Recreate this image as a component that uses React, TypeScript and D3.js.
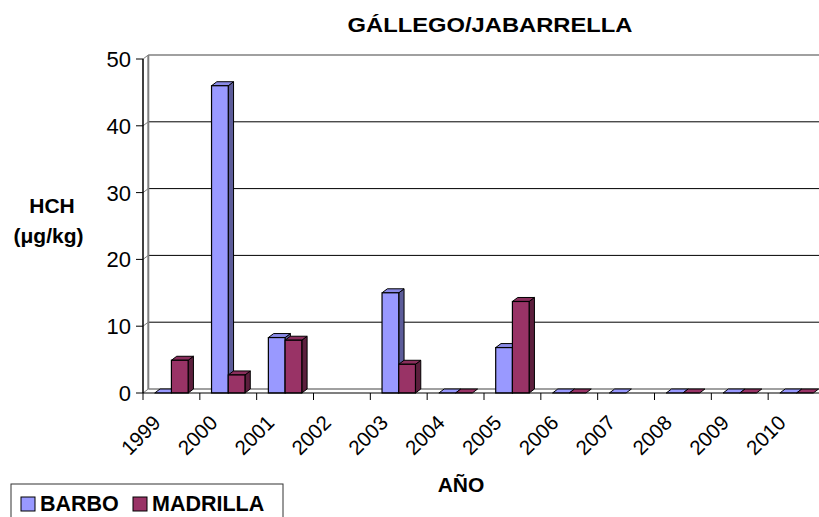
import React from 'react';
import * as d3 from 'd3';

const years = ['1999', '2000', '2001', '2002', '2003', '2004', '2005', '2006', '2007', '2008', '2009', '2010'];
const seriesNames = ['BARBO', 'MADRILLA'];
const barbo: (number | null)[] = [0, 46, 8.3, null, 15, 0, 6.8, 0, 0, 0, 0, 0];
const madrilla: (number | null)[] = [4.9, 2.7, 7.9, null, 4.3, 0, 13.7, 0, null, 0, 0, 0];
const yTicks = [0, 10, 20, 30, 40, 50];

const colors = {
  BARBO: { front: '#9999FF', top: '#8A8AE6', side: '#5C5C99' },
  MADRILLA: { front: '#993366', top: '#8A2E5C', side: '#5C1F3D' },
} as Record<string, { front: string; top: string; side: string }>;

const W = 819, H = 517;
const FONT = '"Liberation Sans", Arial, Helvetica, sans-serif';
const DX = 5.3, DY = 4;

export default function App() {
  const x0 = d3.scaleBand<string>().domain(years).range([143, 825]).paddingInner(0).paddingOuter(0);
  const x1 = d3.scaleBand<string>().domain(seriesNames).range([0, x0.bandwidth()]).paddingInner(0).paddingOuter(0.7);
  const y = d3.scaleLinear().domain([0, 50]).range([393, 59]);
  const y0 = y(0);
  const xL = 143, xR = 825;

  const seriesData: Record<string, (number | null)[]> = { BARBO: barbo, MADRILLA: madrilla };

  const bars: React.ReactNode[] = [];
  years.forEach((yr, i) => {
    seriesNames.forEach((s) => {
      const v = seriesData[s][i];
      if (v === null || v === undefined) return;
      const bx = (x0(yr) as number) + (x1(s) as number);
      const bw = x1.bandwidth();
      const yt = y(v);
      const c = colors[s];
      const key = `${yr}-${s}`;
      const top = `M${bx},${yt} L${bx + bw},${yt} L${bx + bw + DX},${yt - DY} L${bx + DX},${yt - DY} Z`;
      if (v === 0) {
        bars.push(<path key={key} d={top} fill={c.front} stroke="#000" strokeWidth={1} strokeLinejoin="round" />);
        return;
      }
      const side = `M${bx + bw},${yt} L${bx + bw + DX},${yt - DY} L${bx + bw + DX},${y0 - DY} L${bx + bw},${y0} Z`;
      bars.push(
        <g key={key}>
          <path d={side} fill={c.side} stroke="#000" strokeWidth={1} strokeLinejoin="round" />
          <path d={top} fill={c.top} stroke="#000" strokeWidth={1} strokeLinejoin="round" />
          <rect x={bx} y={yt} width={bw} height={y0 - yt} fill={c.front} stroke="#000" strokeWidth={1.2} />
        </g>
      );
    });
  });

  return (
    <svg width={W} height={H} style={{ position: 'fixed', left: 0, top: 0, background: '#fff' }} fontFamily={FONT}>
      <rect x={0} y={0} width={W} height={H} fill="#fff" />
      {/* title */}
      <text x={490} y={32} textAnchor="middle" fontSize={21} fontWeight="bold" textLength={285} lengthAdjust="spacingAndGlyphs">GÁLLEGO/JABARRELLA</text>

      {/* back wall gridlines */}
      {yTicks.map((t) => (
        <g key={`g${t}`}>
          {t !== 0 && t !== 50 && <line x1={xL + DX} x2={xR} y1={y(t) - DY} y2={y(t) - DY} stroke="#000" strokeWidth={1} />}
          <line x1={xL} x2={xL + DX} y1={y(t)} y2={y(t) - DY} stroke="#808080" strokeWidth={1} />
        </g>
      ))}
      {/* back wall top & left edge */}
      <line x1={xL + DX} x2={xR} y1={y(50) - DY} y2={y(50) - DY} stroke="#808080" strokeWidth={1.5} />
      <line x1={xL + DX} x2={xL + DX} y1={y(50) - DY} y2={y0 - DY} stroke="#808080" strokeWidth={2} />
      {/* floor back edge */}
      <line x1={xL + DX} x2={xR} y1={y0 - DY} y2={y0 - DY} stroke="#808080" strokeWidth={1.5} />

      {bars}

      {/* front axes */}
      <line x1={xL} x2={xL} y1={y(50)} y2={y0} stroke="#000" strokeWidth={1.5} />
      <line x1={xL} x2={xR} y1={y0} y2={y0} stroke="#000" strokeWidth={1.2} />
      {yTicks.map((t) => (
        <g key={`yt${t}`}>
          <line x1={xL - 7} x2={xL} y1={y(t)} y2={y(t)} stroke="#000" strokeWidth={1} />
          <text x={131} y={y(t)} dy="0.36em" textAnchor="end" fontSize={22}>{t}</text>
        </g>
      ))}
      {years.map((yr) => (
        <line key={`xt${yr}`} x1={x0(yr) as number} x2={x0(yr) as number} y1={y0} y2={y0 + 7} stroke="#000" strokeWidth={1} />
      ))}
      <line x1={xR} x2={xR} y1={y0} y2={y0 + 7} stroke="#000" strokeWidth={1} />
      {years.map((yr) => {
        const cx = (x0(yr) as number) + x0.bandwidth() / 2 - 9.5;
        return (
          <text key={`xl${yr}`} x={cx} y={424} textAnchor="end" fontSize={20.5} transform={`rotate(-45, ${cx}, 424)`}>{yr}</text>
        );
      })}

      {/* axis titles */}
      <text x={52} y={213} textAnchor="middle" fontSize={21} fontWeight="bold">HCH</text>
      <text x={48.5} y={243} textAnchor="middle" fontSize={21} fontWeight="bold">(μg/kg)</text>
      <text x={461} y={492} textAnchor="middle" fontSize={21} fontWeight="bold">AÑO</text>

      {/* legend */}
      <rect x={11} y={484} width={272} height={44} fill="#fff" stroke="#333" strokeWidth={1} />
      <rect x={21} y={497} width={14} height={14} fill={colors.BARBO.front} stroke="#000" strokeWidth={1} />
      <text x={40} y={511} fontSize={21.5} fontWeight="bold">BARBO</text>
      <rect x={133} y={497} width={14} height={14} fill={colors.MADRILLA.front} stroke="#000" strokeWidth={1} />
      <text x={152} y={511} fontSize={21.5} fontWeight="bold">MADRILLA</text>
    </svg>
  );
}
